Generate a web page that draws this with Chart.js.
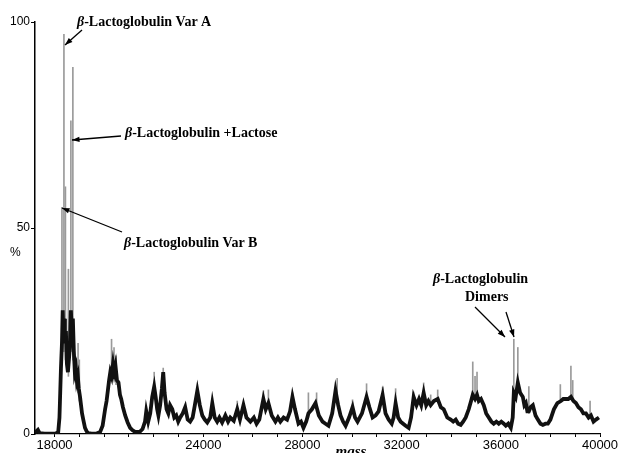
<!DOCTYPE html>
<html>
<head>
<meta charset="utf-8">
<script src="https://cdn.jsdelivr.net/npm/chart.js@4.4.1/dist/chart.umd.min.js"></script>
<style>
  html, body { margin: 0; padding: 0; background: #fff; }
  #wrap { width: 619px; height: 453px; position: relative; }
</style>
</head>
<body>
<div id="wrap"><canvas id="grafico"></canvas></div>
<script>
// espectro de massa - beta-lactoglobulina
const massaTraco = [
  17213, 17250, 17330, 17400, 17600, 17800, 18050, 18150,
  18200, 18260, 18300, 18330, 18360, 18390, 18420, 18460, 18500, 18540, 18580, 18620,
  18660, 18700, 18740, 18780, 18820, 18860, 18900, 18940, 18980, 19030, 19070, 19110,
  19160, 19230, 19300, 19360, 19500, 19700, 19840,
  19940, 20040, 20100, 20160, 20200, 20250, 20300, 20360, 20410, 20460, 20520, 20580,
  20640, 20690, 20760, 20850, 20950, 21050, 21150, 21250, 21350, 21450, 21550,
  21650, 21700, 21780, 21860, 21940, 22020, 22080, 22140, 22190, 22260, 22330, 22384,
  22440, 22520, 22590, 22660, 22750, 22830, 22910, 22990, 23070, 23170, 23270, 23370,
  23470, 23570, 23660, 23760, 23860, 23960, 24060, 24160, 24280, 24364, 24460, 24560,
  24650, 24760, 24890, 25000, 25090, 25230, 25370, 25480, 25620, 25740, 25900, 26040,
  26150, 26260, 26424, 26520, 26626, 26760, 26910, 27010, 27110, 27240, 27380, 27500,
  27596, 27700, 27840, 27940, 28040, 28150, 28240, 28380, 28525, 28660, 28810, 28930,
  29050, 29200, 29333, 29440, 29535, 29640, 29740, 29880, 30020, 30120, 30222, 30400,
  30585, 30700, 30828, 30950, 31070, 31232, 31350, 31474, 31600, 31676, 31757, 31860,
  31960, 32060, 32161, 32282, 32380, 32484, 32600, 32700, 32790, 32888, 32990, 33080,
  33171, 33300, 33454, 33580, 33696, 33840, 33979, 34080, 34181, 34280, 34383, 34480,
  34585, 34706, 34800, 34868, 34960, 35040, 35110, 35200, 35312, 35410, 35514, 35620,
  35716, 35820, 35918, 36020, 36120, 36201, 36300, 36403, 36480, 36524, 36600, 36686,
  36780, 36888, 36950, 37009, 37070, 37130, 37200, 37292, 37400, 37494, 37600, 37696,
  37800, 37898, 38000, 38140, 38280, 38423, 38520, 38625, 38720, 38827, 38930, 39029,
  39130, 39231, 39330, 39433, 39540, 39635, 39740, 39837, 39958
];
const intensTraco = [
  0.3, 0.3, 1.0, 0.2, 0.1, 0.1, 0.1, 0.5,
  4, 16, 22, 30, 24, 28, 22, 25, 17, 15, 18, 21,
  30, 25, 28, 20, 15, 16, 13, 14, 11, 9, 7, 5,
  3.5, 1.5, 0.6, 0.2, 0.1, 0.1, 0.5,
  2, 6, 8, 11, 13, 15, 14, 17, 15, 16.5, 13, 12.5,
  9.5, 8.5, 6.5, 4.5, 2.8, 1.5, 0.9, 0.5, 0.5, 0.6, 1.2,
  3, 5.5, 3, 5, 9, 11.5, 9, 6, 4.5, 7, 11, 15,
  10, 6, 5, 7, 6, 4, 4.5, 3, 4, 5, 6.5, 3.5,
  3, 4, 7, 10.5, 7, 4.5, 3.5, 2.8, 4, 7.5, 4, 3,
  4, 2.8, 4.5, 3, 4, 3.2, 6, 3.5, 7, 4, 3, 4,
  2.5, 3.5, 8.5, 6, 7.5, 4.5, 3, 4, 3, 4, 3.5, 5.5,
  9, 6, 2.5, 3, 1.5, 3, 5, 6, 7.5, 4.5, 3, 2.5,
  2, 5, 10.5, 7, 4.5, 3, 2, 4, 6.5, 4, 3, 5,
  9, 6.5, 4, 4.5, 5.5, 9.5, 5, 3.5, 2.5, 4, 7.5, 4,
  3, 2.5, 2, 1.5, 4, 9, 7, 8.5, 7, 10, 7, 8,
  7, 8, 8.5, 6.5, 6, 4, 3.5, 3, 3.5, 2.5, 2.2, 3,
  4, 6, 8, 9.5, 8.5, 9.5, 8, 8.5, 7, 5, 4, 3,
  2.5, 3, 2.5, 3, 2.5, 2, 2.5, 1.5, 4, 10, 9, 12.5,
  10, 9, 7, 7.5, 5.5, 5.5, 6.5, 7, 4.5, 3.5, 2.5, 2.2,
  2.5, 2.5, 3.5, 6, 7.5, 8, 8.5, 8.5, 8.5, 9, 8, 7.5,
  6.5, 6, 5, 5, 4, 4.5, 3, 3.5, 4
];

// picos finos (linhas cinza)
const massaPicos = [18300, 18380, 18440, 18560, 18660, 18740, 18950, 19000,
  20300, 20400, 20480, 21700, 22020, 22384, 23760, 24364, 25370, 26424, 26626,
  27596, 28240, 28570, 29400, 30020, 30585, 31232, 31757, 32484, 32888, 33171,
  33454, 34868, 34960, 35040, 36524, 36686, 37130, 38400, 38827, 38900, 39600];
const picoBaixo = [20, 20, 18, 14, 20, 18, 10, 8,
  13, 14, 12, 3, 10, 12, 9, 6, 5, 8, 7,
  8, 4, 7, 10, 6, 8, 9, 7, 8, 9, 7,
  8, 9, 8, 9, 9, 12, 5, 8, 9, 8, 4];
const picoAlto = [55, 97, 60, 40, 76, 89, 22, 18,
  23, 21, 19, 6, 15, 16, 11, 8, 8, 10.5, 10.7,
  10, 10, 10, 13.5, 8.3, 12.2, 11.4, 11, 10.2, 12.4, 9.5,
  10.7, 17.5, 14, 15, 23, 21, 11.5, 12, 16.5, 13, 8];

const ticksX = [18000, 24000, 28000, 32000, 36000, 40000];
const ticksY = [0, 50, 100];

// textos das setas
const anotacoes = [
  { texto: ["-Lactoglobulin Var A"], x: 77, y: 26, seta: [82, 30, 65, 45] },
  { texto: ["-Lactoglobulin +Lactose"], x: 125, y: 137, seta: [121, 136, 72, 140] },
  { texto: ["-Lactoglobulin Var B"], x: 124, y: 247, seta: [122, 232, 62, 208] },
  { texto: ["-Lactoglobulin"], x: 433, y: 283, seta: [475, 307, 505, 337] },
  { texto: ["Dimers"], x: 465, y: 301, semBeta: true, seta: [506, 312, 514, 337] }
];

let dadosTraco = [];
for (let i = 0; i < massaTraco.length; i++) {
  dadosTraco.push({ x: massaTraco[i], y: intensTraco[i] });
}
let dadosPicos = [];
for (let i = 0; i < massaPicos.length; i++) {
  dadosPicos.push({ x: massaPicos[i], y: [picoBaixo[i], picoAlto[i]] });
}

function desenharSeta(ctx, x1, y1, x2, y2) {
  ctx.beginPath();
  ctx.moveTo(x1, y1);
  ctx.lineTo(x2, y2);
  ctx.stroke();
  const ang = Math.atan2(y2 - y1, x2 - x1);
  ctx.beginPath();
  ctx.moveTo(x2, y2);
  ctx.lineTo(x2 - 8 * Math.cos(ang - 0.35), y2 - 8 * Math.sin(ang - 0.35));
  ctx.lineTo(x2 - 8 * Math.cos(ang + 0.35), y2 - 8 * Math.sin(ang + 0.35));
  ctx.closePath();
  ctx.fill();
}

const pluginTextos = {
  id: "textos",
  afterDraw(chart) {
    const ctx = chart.ctx;
    ctx.save();
    ctx.fillStyle = "#000";
    ctx.strokeStyle = "#000";
    ctx.lineWidth = 1.3;
    ctx.textBaseline = "alphabetic";
    ctx.textAlign = "left";
    for (let i = 0; i < anotacoes.length; i++) {
      const a = anotacoes[i];
      let x = a.x;
      if (!a.semBeta) {
        ctx.font = "italic bold 14px 'Liberation Serif'";
        ctx.fillText("β", x, a.y);
        x += ctx.measureText("β").width;
      }
      ctx.font = "bold 14px 'Liberation Serif'";
      ctx.fillText(a.texto[0], x, a.y);
      const s = a.seta;
      desenharSeta(ctx, s[0], s[1], s[2], s[3]);
    }
    // titulos dos eixos
    ctx.font = "12px 'Liberation Sans'";
    ctx.fillText("%", 10, 256);
    ctx.font = "italic bold 15px 'Liberation Serif'";
    ctx.textAlign = "center";
    ctx.fillText("mass", 351, 456);
    ctx.restore();
  }
};

new Chart(document.getElementById("grafico"), {
  data: {
    datasets: [
      {
        type: "line",
        data: dadosTraco,
        borderColor: "#111",
        borderWidth: 3.8,
        pointRadius: 0,
        tension: 0,
        order: 0
      },
      {
        type: "bar",
        data: dadosPicos,
        backgroundColor: "#9a9a9a",
        barThickness: 1,
        order: 1
      }
    ]
  },
  options: {
    responsive: true,
    maintainAspectRatio: false,
    animation: false,
    layout: { padding: { top: 22, right: 19, left: 0, bottom: 0 } },
    plugins: { legend: { display: false }, tooltip: { enabled: false } },
    scales: {
      x: {
        type: "linear",
        min: 17213,
        max: 40000,
        offset: false,
        afterBuildTicks(scale) {
          let t = [];
          for (let v = 18000; v <= 40000; v += 1000) t.push({ value: v });
          scale.ticks = t;
        },
        afterFit(scale) {
          scale.height = 19;
          scale.paddingLeft = 0;
          scale.paddingRight = 0;
        },
        ticks: {
          autoSkip: false,
          maxRotation: 0,
          padding: 1,
          color: "#000",
          font: { family: "'Liberation Sans'", size: 13 },
          callback: (v) => (ticksX.includes(v) ? String(v) : "")
        },
        grid: { offset: false, drawOnChartArea: false, color: "#000", tickLength: 3 },
        border: { color: "#000", width: 1.2 }
      },
      y: {
        min: 0,
        max: 100,
        afterBuildTicks(scale) {
          scale.ticks = ticksY.map((v) => ({ value: v }));
        },
        afterFit(scale) { scale.width = 35; },
        ticks: {
          padding: 1,
          color: "#000",
          font: { family: "'Liberation Sans'", size: 12 }
        },
        grid: { drawOnChartArea: false, color: "#000", tickLength: 4 },
        border: { color: "#000", width: 1.5 }
      }
    }
  },
  plugins: [pluginTextos]
});
</script>
</body>
</html>
